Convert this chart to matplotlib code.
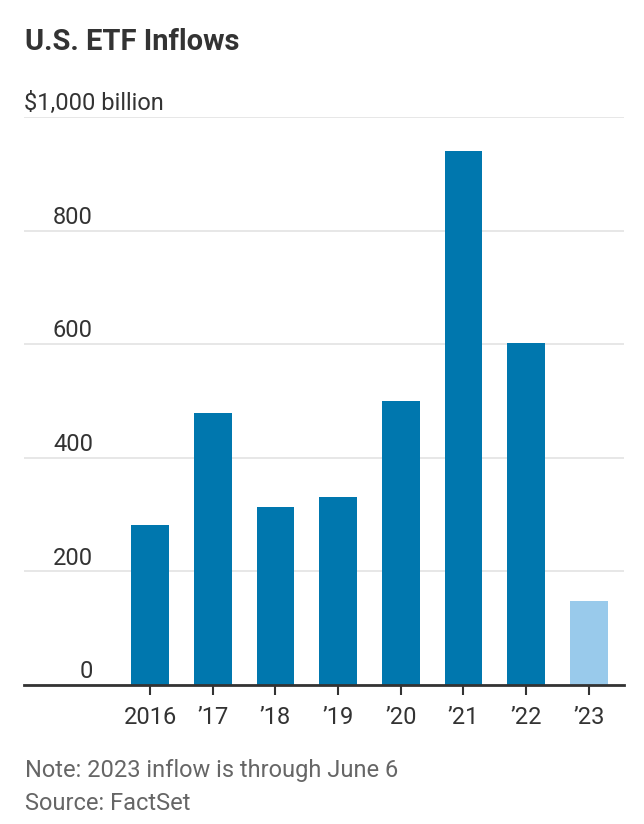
import matplotlib
matplotlib.use("Agg")
import matplotlib.pyplot as plt

years = ["2016", "\u201917", "\u201918", "\u201919", "\u201920", "\u201921", "\u201922", "\u201923"]
inflows = [282, 479, 313, 331, 500, 940, 602, 148]
partial = [False, False, False, False, False, False, False, True]
y_ticks = [0, 200, 400, 600, 800, 1000]
y_labels = ["0", "200", "400", "600", "800", "$1,000 billion"]

plt.rcParams["font.family"] = ["Roboto", "DejaVu Sans"]

dark = "#0077ae"
light = "#99caeb"
text_c = "#333333"

fig = plt.figure(figsize=(6.44, 8.24), dpi=100)
ax = fig.add_axes([24 / 644, 1 - 685 / 824, 600 / 644, (685 - 117) / 824])

x = list(range(len(years)))
colors = [light if p else dark for p in partial]
ax.bar(x, inflows, width=0.6, color=colors, zorder=3)

ax.set_xlim(-2.01, 7.56)
ax.set_ylim(0, 1000)
ax.set_yticks(y_ticks)
ax.set_yticklabels([])
ax.yaxis.grid(True, color="#e3e3e3", linewidth=1.2, zorder=0)
ax.tick_params(axis="y", length=0)

# y labels sit above the gridlines
for v, lab in zip(y_ticks, y_labels):
    if v == 1000:
        ax.text(0.0, v + 12, lab, transform=ax.get_yaxis_transform(),
                ha="left", va="baseline", fontsize=17, color=text_c)
    else:
        ax.text(69 / 600, v + 12, lab, transform=ax.get_yaxis_transform(),
                ha="right", va="baseline", fontsize=17, color=text_c)

ax.set_xticks(x)
ax.set_xticklabels(years, fontsize=17, color=text_c)
ax.tick_params(axis="x", length=7, width=1.5, color=text_c, pad=8)

for s in ["top", "right", "left"]:
    ax.spines[s].set_visible(False)
ax.spines["bottom"].set_color(text_c)
ax.spines["bottom"].set_linewidth(2)
ax.spines["bottom"].set_zorder(4)

fig.text(25 / 644, 1 - 42 / 824, "U.S. ETF Inflows", fontsize=21, fontweight="bold",
         color=text_c, ha="left", va="center")
fig.text(25 / 644, 1 - 770 / 824, "Note: 2023 inflow is through June 6", fontsize=17,
         color="#666666", ha="left", va="center")
fig.text(25 / 644, 1 - 803 / 824, "Source: FactSet", fontsize=17,
         color="#666666", ha="left", va="center")

fig.savefig("out.png", dpi=100)
plt.close(fig)
